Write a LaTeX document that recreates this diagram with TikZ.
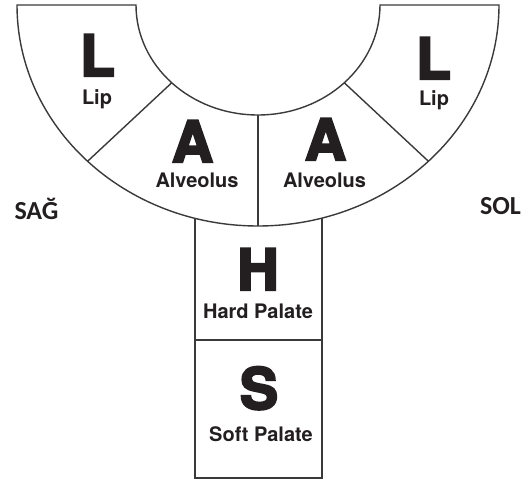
\documentclass[tikz,border=0pt]{standalone}
\usepackage{fontspec}
\newfontfamily\bigletter{TeX Gyre Heros}[BoldFeatures={FakeBold=4}]
\newfontfamily\partlabel{TeX Gyre Heros}
\newfontfamily\sidelabel{Carlito}
\definecolor{ink}{HTML}{231F20}
\definecolor{edge}{HTML}{3A3A3A}
\tikzset{
  region/.style={draw=edge, line width=1.4pt, fill=white, line join=miter},
  divider/.style={draw=edge, line width=1.4pt},
  letter/.style={inner sep=0pt, anchor=base, text=ink, font=\bigletter\bfseries\fontsize{57}{57}\selectfont},
  partname/.style={inner sep=0pt, anchor=base, text=ink, font=\partlabel\bfseries\fontsize{20}{20}\selectfont},
  sidename/.style={inner sep=0pt, anchor=base, text=ink, font=\sidelabel\bfseries\fontsize{26}{26}\selectfont}
}
\begin{document}
\begin{tikzpicture}[x=1pt, y=1pt]
  \useasboundingbox (0,0) rectangle (524,484);

  % stem: hard and soft palate
  \draw[region] (195,6) rectangle (322,300);
  \coordinate (stemL) at (195,144);
  \coordinate (stemR) at (322,144);
  \draw[divider] (stemL) -- (stemR);

  % half elliptical band for lips and alveoli
  \coordinate (C) at (258,479);
  \draw[region] (17,479) -- (136,479)
    arc[start angle=180, end angle=360, x radius=122, y radius=110]
    -- (499,479)
    arc[start angle=0, end angle=-180, x radius=241, y radius=221] -- cycle;

  % radial dividers
  \path (C) ++(225:122 and 110) coordinate (inL);
  \path (C) ++(225:241 and 221) coordinate (outL);
  \path (C) ++(315:122 and 110) coordinate (inR);
  \path (C) ++(315:241 and 221) coordinate (outR);
  \path (C) ++(270:122 and 110) coordinate (inM);
  \path (C) ++(270:241 and 221) coordinate (outM);
  \draw[divider] (inL) -- (outL);
  \draw[divider] (inR) -- (outR);
  \draw[divider] (inM) -- (outM);

  % labels
  \node[letter]   (lipL)   at (97.5,408) {L};
  \node[partname] (lipLt)  at (97,379)   {Lip};
  \node[letter]   (lipR)   at (433.5,405) {L};
  \node[partname] (lipRt)  at (434,378)  {Lip};
  \node[letter]   (alvL)   at (192.5,322) {A};
  \node[partname] (alvLt)  at (197,296)  {Alveolus};
  \node[letter]   (alvR)   at (325.5,324) {A};
  \node[partname] (alvRt)  at (324.5,296) {Alveolus};
  \node[letter]   (hard)   at (258,194)  {H};
  \node[partname] (hardt)  at (258,165)  {Hard Palate};
  \node[letter]   (soft)   at (259,75)   {S};
  \node[partname] (softt)  at (261,42)   {Soft Palate};
  \node[sidename] (right)  at (36.5,264) {SAĞ};
  \node[sidename] (left)   at (500.5,269) {SOL};
\end{tikzpicture}
\end{document}
